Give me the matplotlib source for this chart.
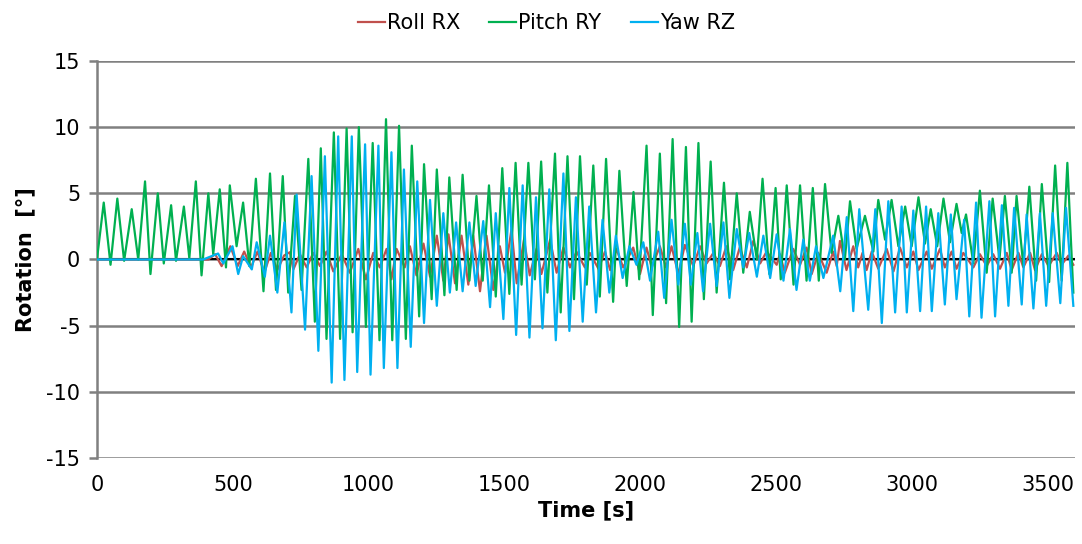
import numpy as np
import matplotlib.pyplot as plt

# extremes (time [s], rotation [deg])
roll_t = [0, 410, 435, 459, 491, 518, 542, 567, 591, 616, 640, 664, 689,
          710, 723, 747, 772, 796, 821, 845, 870, 901, 931, 962, 990, 1017, 1041,
          1066, 1084, 1103, 1133, 1152, 1176, 1202, 1226, 1251, 1275, 1294, 1318,
          1342, 1367, 1385, 1410, 1434, 1459, 1483, 1502, 1526, 1545, 1572, 1593,
          1618, 1636, 1668, 1692, 1717, 1741, 1765, 1796, 1814, 1846, 1870, 1889,
          1912, 1937, 1974, 1999, 2023, 2042, 2072, 2095, 2115, 2140, 2164, 2195,
          2220, 2244, 2269, 2293, 2317, 2342, 2366, 2392, 2416, 2441, 2465, 2502,
          2514, 2532, 2563, 2588, 2612, 2631, 2655, 2686, 2710, 2723, 2735, 2759,
          2784, 2802, 2818, 2833, 2852, 2876, 2907, 2932, 2956, 2981, 3005, 3024,
          3054, 3073, 3103, 3121, 3146, 3164, 3189, 3226, 3250, 3275, 3299, 3324,
          3349, 3367, 3392, 3410, 3435, 3453, 3478, 3503, 3533, 3551, 3576, 3594]
roll_v = [0, 0, 0.4, -0.5, 1.0, -0.5, 0.6, -0.6, 0.6, -1.0, 0.5, -0.8, 0.3,
          0.55, -0.75, 0.4, -0.6, 0.5, -0.5, 0.6, -0.9, 0.4, -1.0, 0.8, -1.5, 0.5, -0.6,
          0.8, -1.5, 0.8, -0.6, 1.0, -1.2, 1.2, -1.3, 1.8, -1.6, 1.9, -1.8,
          1.8, -1.9, 1.8, -2.4, 1.8, -2.3, 1.0, -1.0, 2.3, -1.8, 1.5, -1.2,
          0.8, -1.1, 1.5, -1.0, 0.9, -0.6, 0.6, -0.6, 0.5, -0.7, 0.6, -0.8,
          0.8, -0.6, 0.9, -1.1, 0.9, -0.6, 1.0, -0.6, 1.0, -1.1, 1.1, -0.5,
          1.0, -0.3, 0.5, -0.5, 1.0, -0.8, 0.9, -0.6, 1.4, -0.3, 0.6, -0.4,
          0.4, -1.0, 0.8, -0.4, 0.9, -1.1, 0.5, -1.0, 0.6, -0.5, 1.4, -0.8,
          1.0, -0.6, 0.5, -0.8, 0.6, -0.7, 0.8, -0.9, 0.9, -0.6, 0.6, -0.8,
          0.6, -0.7, 0.8, -0.6, 0.6, -0.7, 0.5, -0.6, 0.4, -0.5, 0.4, -0.7,
          0.5, -0.8, 0.5, -0.6, 0.5, -0.8, 0.4, -0.5, 0.5, -0.4, 0.3, -0.4]

pitch_t = [0, 25, 50, 75, 100, 128, 152, 177, 197, 224, 246, 273, 291, 320, 340,
           364, 385, 410, 428, 452, 475, 489, 514, 538, 561, 585, 613, 637, 659,
           684, 704, 729, 753, 778, 802, 824, 845, 872, 895, 919, 941, 964, 990,
           1015, 1040, 1064, 1087, 1112, 1137, 1159, 1186, 1204, 1232, 1251, 1279,
           1297, 1324, 1346, 1371, 1397, 1420, 1443, 1468, 1492, 1518, 1541, 1563,
           1588, 1612, 1635, 1658, 1686, 1707, 1732, 1756, 1778, 1803, 1827, 1851,
           1874, 1900, 1923, 1950, 1975, 1996, 2023, 2046, 2072, 2095, 2119, 2143,
           2168, 2189, 2214, 2234, 2259, 2281, 2308, 2330, 2355, 2379, 2403, 2429,
           2450, 2475, 2498, 2517, 2539, 2564, 2588, 2612, 2635, 2657, 2680, 2704,
           2729, 2753, 2772, 2796, 2827, 2858, 2876, 2901, 2925, 2950, 2975, 2999,
           3024, 3048, 3069, 3093, 3116, 3140, 3164, 3183, 3199, 3226, 3250, 3275,
           3297, 3322, 3342, 3367, 3385, 3410, 3432, 3457, 3478, 3505, 3527, 3551,
           3572, 3594]
pitch_v = [0, 4.3, -0.4, 4.6, -0.1, 3.8, 0.0, 5.9, -1.1, 5.0, -0.3, 4.1, -0.1, 4.0, 0.1,
           5.9, -1.2, 5.0, 0.4, 5.3, -0.6, 5.6, 1.0, 4.3, -0.5, 6.1, -2.4, 6.5, -2.3,
           6.3, -2.5, 4.8, -2.3, 7.6, -4.7, 8.4, -6.0, 9.6, -6.0, 9.9, -5.5, 10.0, -5.1,
           8.8, -6.1, 10.6, -6.1, 10.1, -6.0, 8.6, -4.3, 7.2, -3.0, 6.8, -2.7,
           6.2, -2.3, 6.4, -1.6, 4.8, -1.6, 5.6, -2.8, 6.9, -2.6, 7.3, -1.9,
           7.3, -1.5, 7.4, -2.5, 8.0, -4.0, 7.8, -3.0, 7.8, -1.9, 7.1, -2.8,
           7.6, -3.2, 6.7, -2.0, 5.1, -1.5, 8.6, -4.2, 8.0, -3.3, 9.1, -5.1,
           8.5, -4.7, 8.8, -3.0, 7.4, -2.5, 5.8, -1.5, 5.0, -1.0, 3.6, 0.0,
           6.1, -1.1, 5.4, -1.5, 5.6, -1.9, 5.6, -1.6, 5.4, -1.6, 5.7, 0.5,
           3.3, 0.0, 4.4, 0.8, 3.3, 0.6, 4.5, 1.5, 4.5, 1.0, 4.0, 1.0,
           4.7, 1.2, 3.8, 1.0, 4.6, 1.3, 4.2, 2.0, 3.4, -0.3, 5.2, -1.0,
           4.6, 0.0, 4.8, -1.0, 4.8, -0.5, 5.5, -1.6, 5.7, -1.7, 7.1, -1.6,
           7.3, -2.5]

yaw_t = [0, 391, 446, 465, 499, 520, 538, 570, 588, 618, 637, 664, 690,
         716, 735, 766, 790, 815, 839, 864, 888, 911, 938, 958, 987, 1007, 1036,
         1056, 1084, 1106, 1130, 1155, 1179, 1204, 1226, 1251, 1275, 1299, 1322,
         1346, 1371, 1394, 1422, 1447, 1468, 1496, 1518, 1543, 1567, 1592, 1616,
         1640, 1665, 1689, 1717, 1739, 1763, 1788, 1812, 1837, 1861, 1886, 1910,
         1935, 1960, 1986, 2011, 2036, 2066, 2088, 2115, 2140, 2164, 2186, 2210,
         2231, 2257, 2281, 2306, 2328, 2355, 2379, 2401, 2429, 2453, 2478, 2502,
         2527, 2551, 2575, 2600, 2624, 2647, 2674, 2710, 2736, 2760, 2784, 2806,
         2839, 2865, 2889, 2913, 2938, 2962, 2981, 3005, 3030, 3052, 3073, 3097,
         3121, 3143, 3164, 3192, 3211, 3236, 3256, 3285, 3306, 3331, 3355, 3376,
         3404, 3422, 3447, 3471, 3494, 3518, 3546, 3567, 3594]
yaw_v = [0, 0, 0.45, -0.3, 1.0, -1.1, 0.25, -0.75, 1.3, -1.3, 1.8, -2.5, 2.8,
         -4.0, 4.9, -5.3, 6.3, -6.9, 7.8, -9.3, 9.3, -9.1, 9.3, -8.5, 8.7, -8.7, 8.6,
         -8.2, 8.1, -8.2, 6.8, -6.6, 5.9, -4.8, 4.5, -3.5, 3.5, -2.5, 2.8,
         -2.4, 2.8, -2.0, 2.9, -3.6, 3.5, -4.5, 5.4, -5.7, 5.6, -5.9, 4.7,
         -5.2, 5.3, -6.1, 6.5, -5.4, 4.7, -4.7, 4.0, -4.0, 3.0, -2.5, 1.8,
         -1.4, 1.0, -0.4, 1.3, -1.6, 2.1, -2.9, 3.0, -1.9, 2.7, -1.9, 2.0,
         -2.4, 2.7, -2.0, 2.8, -2.9, 2.3, -0.6, 2.0, -1.3, 1.8, -1.4, 1.9,
         -1.6, 2.3, -2.3, 1.5, -1.6, 1.0, -1.4, 1.8, -2.4, 3.2, -3.9, 3.8,
         -3.8, 3.8, -4.8, 4.4, -4.0, 4.0, -4.0, 3.7, -3.9, 4.0, -3.9, 3.5,
         -3.4, 3.4, -3.0, 3.0, -4.3, 4.3, -4.4, 4.4, -4.3, 4.1, -3.5, 3.9,
         -3.4, 3.4, -3.7, 3.5, -3.5, 3.5, -3.3, 3.9, -3.5]

plt.rcParams['font.family'] = ['DejaVu Sans']
plt.rcParams['axes.unicode_minus'] = False

fig = plt.figure(figsize=(10.82, 5.44), dpi=100)
ax = fig.add_axes([0.0896, 0.158, 0.9039, 0.730])

ax.plot([0, 3600], [0, 0], color='black', lw=1.5, zorder=1.5, label='_nolegend_')
ax.plot(roll_t, roll_v, color='#C0504D', lw=1.6, label='Roll RX', zorder=2)
ax.plot(pitch_t, pitch_v, color='#00B050', lw=1.6, label='Pitch RY', zorder=3)
ax.plot(yaw_t, yaw_v, color='#00B0F0', lw=1.6, label='Yaw RZ', zorder=4)

ax.set_xlim(0, 3600)
ax.set_ylim(-15, 15)
ax.set_xticks(np.arange(0, 3600, 500))
ax.set_yticks(np.arange(-15, 16, 5))
ax.yaxis.grid(True, color='#808080', lw=1.8)
ax.set_axisbelow(True)
for s in ['top', 'right', 'bottom']:
    ax.spines[s].set_visible(False)
ax.spines['left'].set_color('#808080')
ax.spines['left'].set_linewidth(1.8)
ax.tick_params(axis='y', length=6, width=1.8, color='#808080', labelsize=15, pad=6)
ax.tick_params(axis='x', length=0, labelsize=15, pad=12)

ax.set_xlabel('Time [s]', fontsize=15, fontweight='bold', labelpad=4)
ax.set_ylabel('Rotation  [°]', fontsize=15, fontweight='bold', labelpad=8)

fig.legend(loc='upper center', bbox_to_anchor=(0.505, 1.01), ncol=3, frameon=False,
           fontsize=15, handlelength=1.3, handletextpad=0.1, columnspacing=1.4)

fig.savefig('out.png', dpi=100)
